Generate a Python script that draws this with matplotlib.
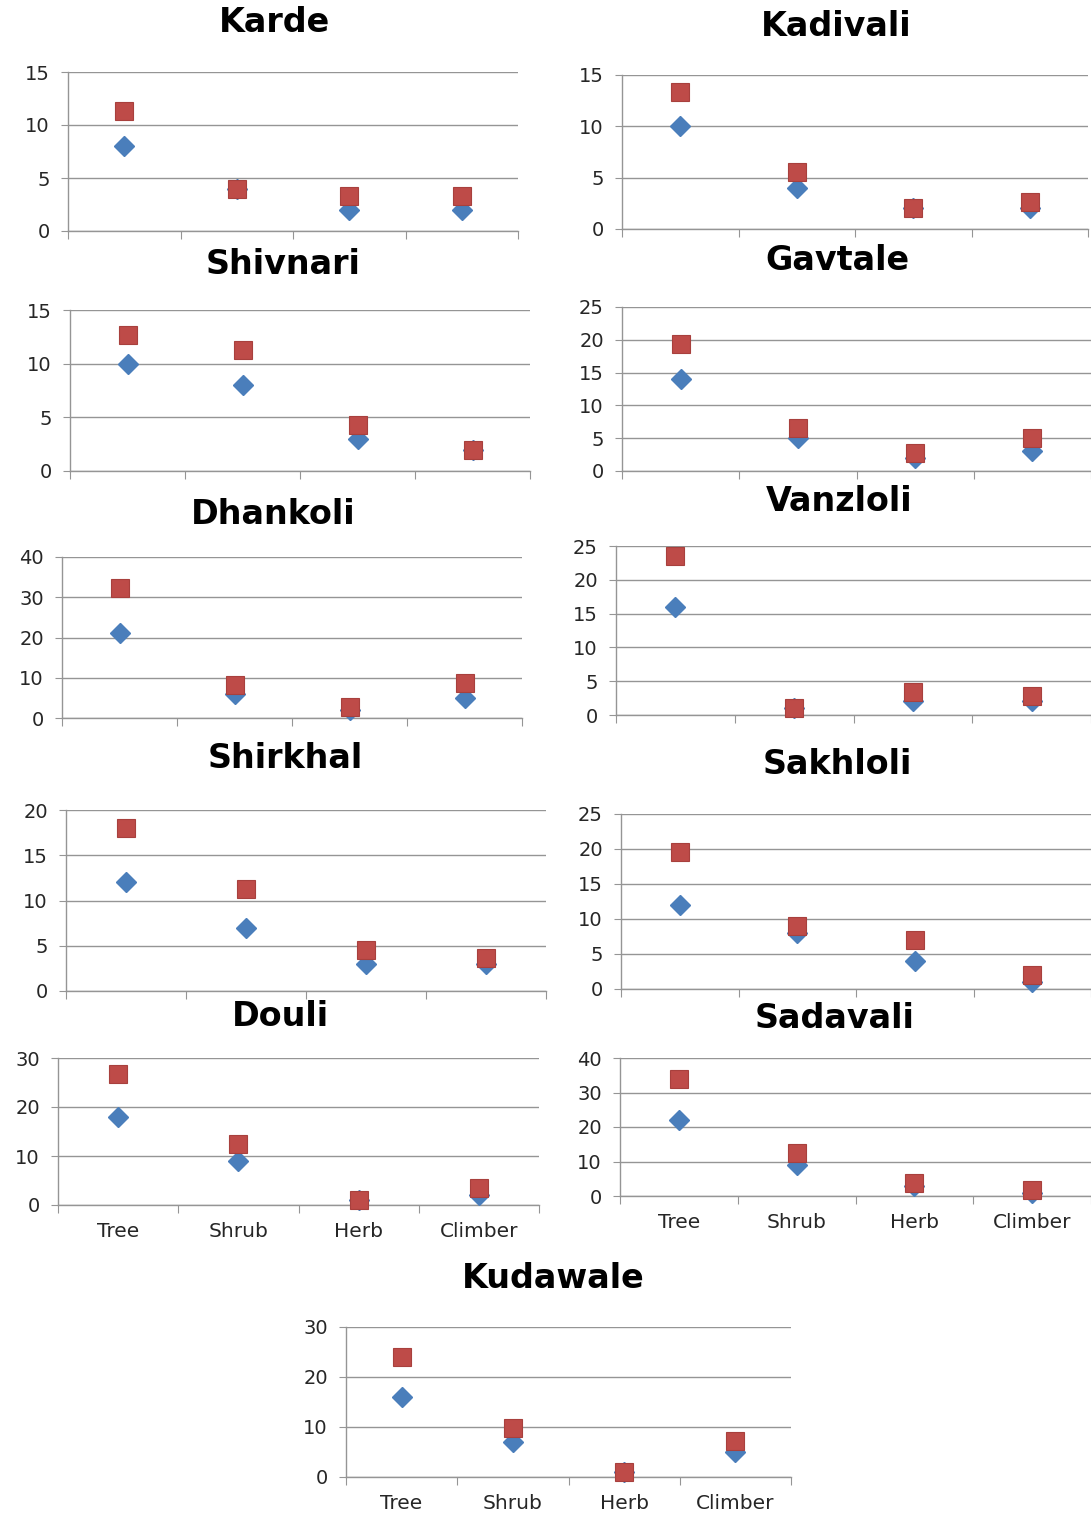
import matplotlib
matplotlib.use('Agg')
import matplotlib.pyplot as plt

categories = ['Tree', 'Shrub', 'Herb', 'Climber']

sites = ['Karde', 'Kadivali', 'Shivnari', 'Gavtale', 'Dhankoli', 'Vanzloli',
         'Shirkhal', 'Sakhloli', 'Douli', 'Sadavali', 'Kudawale']

# blue diamonds (first series) and red squares (second series) per site
blue_vals = {
    'Karde':    [8, 4, 2, 2],
    'Kadivali': [10, 4, 2, 2],
    'Shivnari': [10, 8, 3, 2],
    'Gavtale':  [14, 5, 2, 3],
    'Dhankoli': [21, 6, 2, 5],
    'Vanzloli': [16, 1, 2, 2],
    'Shirkhal': [12, 7, 3, 3],
    'Sakhloli': [12, 8, 4, 1],
    'Douli':    [18, 9, 1, 2],
    'Sadavali': [22, 9, 3, 1],
    'Kudawale': [16, 7, 1, 5],
}
red_vals = {
    'Karde':    [11.3, 4, 3.3, 3.3],
    'Kadivali': [13.3, 5.6, 2, 2.6],
    'Shivnari': [12.7, 11.3, 4.3, 2],
    'Gavtale':  [19.3, 6.6, 2.7, 5],
    'Dhankoli': [32.3, 8.3, 2.7, 8.7],
    'Vanzloli': [23.5, 1, 3.4, 2.8],
    'Shirkhal': [18, 11.3, 4.5, 3.7],
    'Sakhloli': [19.5, 9, 7, 2],
    'Douli':    [26.7, 12.5, 1, 3.5],
    'Sadavali': [34, 12.5, 3.7, 1.8],
    'Kudawale': [24, 9.8, 1, 7.3],
}
y_max = {'Karde': 15, 'Kadivali': 15, 'Shivnari': 15, 'Gavtale': 25,
         'Dhankoli': 40, 'Vanzloli': 25, 'Shirkhal': 20, 'Sakhloli': 25,
         'Douli': 30, 'Sadavali': 40, 'Kudawale': 30}
y_step = {'Karde': 5, 'Kadivali': 5, 'Shivnari': 5, 'Gavtale': 5,
          'Dhankoli': 10, 'Vanzloli': 5, 'Shirkhal': 5, 'Sakhloli': 5,
          'Douli': 10, 'Sadavali': 10, 'Kudawale': 10}
show_labels = {'Douli', 'Sadavali', 'Kudawale'}

W, H = 1091, 1515
# plot area boxes in pixels: left, top, right, bottom ; title x, y
boxes = {
    'Karde':    (68, 72, 518, 231, 275, 22),
    'Kadivali': (622, 75, 1088, 229, 836, 26),
    'Shivnari': (70, 310, 530, 471, 283, 265),
    'Gavtale':  (622, 307, 1091, 471, 837, 261),
    'Dhankoli': (62, 557, 522, 718, 273, 515),
    'Vanzloli': (616, 546, 1091, 715, 839, 502),
    'Shirkhal': (66, 810, 546, 991, 285, 758),
    'Sakhloli': (621, 814, 1091, 989, 837, 765),
    'Douli':    (58, 1058, 539, 1205, 280, 1017),
    'Sadavali': (620, 1058, 1091, 1196, 835, 1018),
    'Kudawale': (346, 1327, 791, 1477, 553, 1278),
}

BLUE = '#4a7ebb'
RED = '#be4b48'
GRID = '#959595'
TXT = '#262626'

fig = plt.figure(figsize=(W / 100, H / 100), dpi=100)
fig.patch.set_facecolor('white')

for site in sites:
    l, t, r, b, tx, ty = boxes[site]
    ax = fig.add_axes([l / W, 1 - b / H, (r - l) / W, (b - t) / H])
    x = list(range(len(categories)))
    ax.plot(x, blue_vals[site], linestyle='none', marker='D', markersize=10,
            color=BLUE, markeredgecolor=BLUE, zorder=3, clip_on=False)
    ax.plot(x, red_vals[site], linestyle='none', marker='s', markersize=13,
            color=RED, markeredgecolor='#a8403d', markeredgewidth=0.8,
            zorder=4, clip_on=False)
    ax.set_xlim(-0.5, len(categories) - 0.5)
    ax.set_ylim(0, y_max[site])
    ax.set_yticks(range(0, y_max[site] + 1, y_step[site]))
    ax.yaxis.grid(True, color=GRID, linewidth=1)
    ax.set_axisbelow(True)
    for s in ('top', 'right'):
        ax.spines[s].set_visible(False)
    for s in ('left', 'bottom'):
        ax.spines[s].set_color(GRID)
        ax.spines[s].set_linewidth(1)
    # category boundary ticks on the x axis
    ax.set_xticks([i - 0.5 for i in range(len(categories) + 1)])
    ax.set_xticklabels([])
    ax.tick_params(axis='x', length=6, color=GRID, direction='out')
    ax.tick_params(axis='y', length=5, color=GRID, direction='out',
                   labelsize=14, pad=8, labelcolor=TXT)
    if site in show_labels:
        ax.set_xticks(x, minor=True)
        ax.set_xticklabels(categories, minor=True)
        ax.tick_params(axis='x', which='minor', length=0, labelsize=14.5,
                       pad=12, labelcolor=TXT)
    fig.text(tx / W, 1 - ty / H, site, ha='center', va='center',
             fontsize=24, fontweight='bold', family='DejaVu Sans')

fig.savefig('out.png', dpi=100, facecolor='white')
